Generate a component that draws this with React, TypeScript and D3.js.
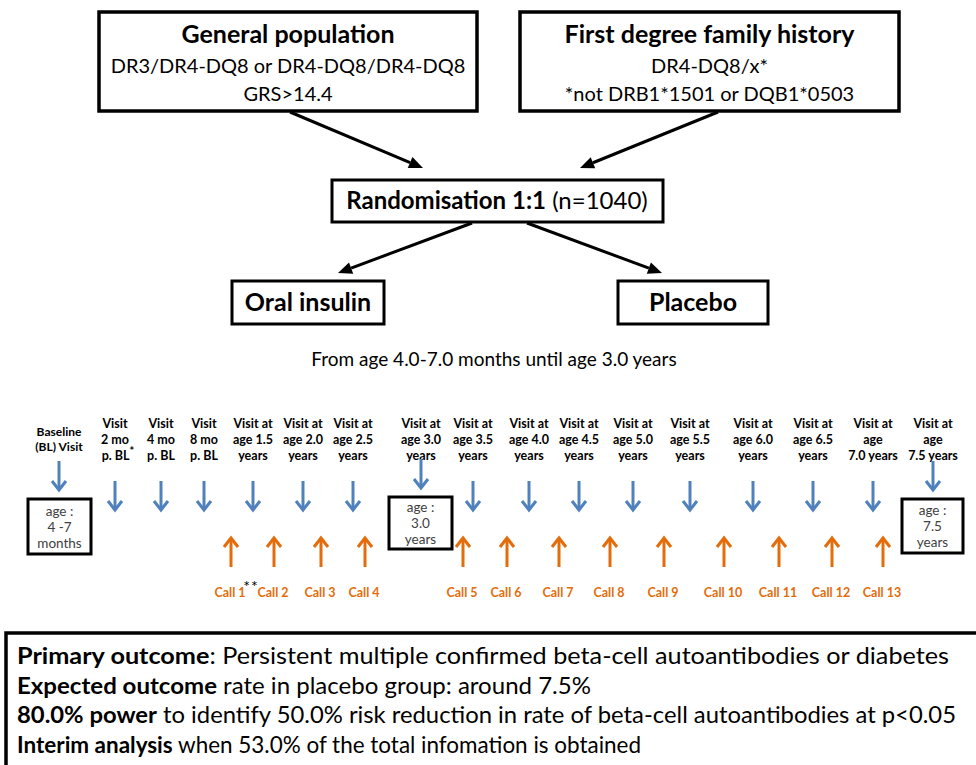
import React from "react";
import * as d3 from "d3";

const FONT = "Lato, 'Open Sans', sans-serif";
const BLUE = "#4F81BD";
const ORANGE = "#E46C0A";

// ---- data ----
const topBoxes = [
  { title: "General population", lines: ["DR3/DR4-DQ8 or DR4-DQ8/DR4-DQ8", "GRS>14.4"] },
  { title: "First degree family history", lines: ["DR4-DQ8/x*", "*not DRB1*1501 or DQB1*0503"] },
];
const randomisationBold = "Randomisation 1:1";
const randomisationNote = " (n=1040)";
const arms = ["Oral insulin", "Placebo"];
const treatmentPeriod = "From age 4.0-7.0 months until age 3.0 years";

const visitLabels: string[][] = [
  ["Baseline", "(BL) Visit"],
  ["Visit", "2 mo", "p. BL*"],
  ["Visit", "4 mo", "p. BL"],
  ["Visit", "8 mo", "p. BL"],
  ["Visit at", "age 1.5", "years"],
  ["Visit at", "age 2.0", "years"],
  ["Visit at", "age 2.5", "years"],
  ["Visit at", "age 3.0", "years"],
  ["Visit at", "age 3.5", "years"],
  ["Visit at", "age 4.0", "years"],
  ["Visit at", "age 4.5", "years"],
  ["Visit at", "age 5.0", "years"],
  ["Visit at", "age 5.5", "years"],
  ["Visit at", "age 6.0", "years"],
  ["Visit at", "age 6.5", "years"],
  ["Visit at", "age", "7.0 years"],
  ["Visit at", "age", "7.5 years"],
];
const ageBoxes = [
  { visit: 0, lines: ["age :", "4 -7", "months"] },
  { visit: 7, lines: ["age :", "3.0", "years"] },
  { visit: 16, lines: ["age :", "7.5", "years"] },
];
const calls = ["Call 1", "Call 2", "Call 3", "Call 4", "Call 5", "Call 6", "Call 7", "Call 8", "Call 9", "Call 10", "Call 11", "Call 12", "Call 13"];
const outcomes = [
  { bold: "Primary outcome", rest: ": Persistent multiple confirmed beta-cell autoantibodies or diabetes" },
  { bold: "Expected outcome", rest: " rate in placebo group: around 7.5%" },
  { bold: "80.0% power", rest: " to identify 50.0% risk reduction in rate of beta-cell autoantibodies at p<0.05" },
  { bold: "Interim analysis", rest: " when 53.0% of the total infomation is obtained" },
];

// ---- layout ----
const visitX = [59, 115, 161, 204, 253, 303, 353, 421, 473, 529, 579, 633, 690, 753, 813, 873, 933];
const callX = [231, 274, 321, 365, 463, 507, 559, 610, 664, 724, 779, 832, 883];
const topBoxRects = [
  { x0: 99, x1: 477 },
  { x0: 520, x1: 899 },
];
const ageBoxRects = [
  { x0: 28, x1: 91, y0: 499, y1: 554 },
  { x0: 389, x1: 452, y0: 497, y1: 549 },
  { x0: 902, x1: 963, y0: 499, y1: 553 },
];
const outcomeLineWidths = [932, 574, 939, 624];

const line = d3.line<[number, number]>();

function Chevron({ x, y0, y1, color }: { x: number; y0: number; y1: number; color: string }) {
  const dir = y1 > y0 ? 1 : -1;
  const shaft = line([[x, y0], [x, y1 - dir * 1]])!;
  const head = line([[x - 7, y1 - dir * 9], [x, y1], [x + 7, y1 - dir * 9]])!;
  return (
    <g fill="none" stroke={color} strokeWidth={3}>
      <path d={shaft} />
      <path d={head} strokeLinejoin="miter" />
    </g>
  );
}

function BlackArrow({ x1, y1, x2, y2 }: { x1: number; y1: number; x2: number; y2: number }) {
  const a = Math.atan2(y2 - y1, x2 - x1);
  const L = 14, W = 6;
  const bx = x2 - L * Math.cos(a), by = y2 - L * Math.sin(a);
  const p1: [number, number] = [bx + W * Math.sin(a), by - W * Math.cos(a)];
  const p2: [number, number] = [bx - W * Math.sin(a), by + W * Math.cos(a)];
  return (
    <g>
      <path d={line([[x1, y1], [bx, by]])!} stroke="#000" strokeWidth={3} fill="none" />
      <path d={line([[x2, y2], p1, p2])! + "Z"} fill="#000" />
    </g>
  );
}

export default function App() {
  const W = 976, H = 765;
  return (
    <svg width={W} height={H} style={{ position: "absolute", left: 0, top: 0, background: "#fff" }} fontFamily={FONT}>
      <rect x={0} y={0} width={W} height={H} fill="#fff" />
      {/* top boxes */}
      {topBoxes.map((b, i) => {
        const r = topBoxRects[i];
        const cx = (r.x0 + r.x1) / 2;
        return (
          <g key={i}>
            <rect x={r.x0} y={12} width={r.x1 - r.x0} height={99} fill="#fff" stroke="#000" strokeWidth={3.5} />
            <text x={cx} y={43} textAnchor="middle" fontSize={25} fontWeight="bold">{b.title}</text>
            {b.lines.map((l, j) => (
              <text key={j} x={cx} y={73 + j * 28} textAnchor="middle" fontSize={20}>{l}</text>
            ))}
          </g>
        );
      })}
      <BlackArrow x1={290} y1={112} x2={423} y2={168} />
      <BlackArrow x1={718} y1={112} x2={580} y2={168} />
      {/* randomisation */}
      <rect x={332} y={180} width={331} height={42} fill="#fff" stroke="#000" strokeWidth={3} />
      <text x={497} y={209} textAnchor="middle" fontSize={24}>
        <tspan fontWeight="bold">{randomisationBold}</tspan>
        <tspan>{randomisationNote}</tspan>
      </text>
      <BlackArrow x1={472} y1={223} x2={338} y2={273} />
      <BlackArrow x1={527} y1={223} x2={662} y2={273} />
      {/* arms */}
      {arms.map((a, i) => {
        const x0 = i === 0 ? 232 : 618;
        const x1 = i === 0 ? 384 : 768;
        return (
          <g key={a}>
            <rect x={x0} y={281} width={x1 - x0} height={43} fill="#fff" stroke="#000" strokeWidth={3} />
            <text x={(x0 + x1) / 2} y={311} textAnchor="middle" fontSize={25} fontWeight="bold">{a}</text>
          </g>
        );
      })}
      <text x={494} y={366} textAnchor="middle" fontSize={19}>{treatmentPeriod}</text>

      {/* visits */}
      {visitLabels.map((lines, i) => {
        const x = visitX[i];
        const isBase = i === 0;
        const y0 = isBase ? 436 : 428;
        const dy = isBase ? 15 : 16;
        return (
          <g key={i}>
            {lines.map((l, j) => {
              if (l.endsWith("*")) {
                return (
                  <text key={j} x={x + 3} y={y0 + j * dy} textAnchor="middle" fontSize={12.5} fontWeight="bold">
                    {l.slice(0, -1)}
                    <tspan dy={-5} fontSize={11}>*</tspan>
                  </text>
                );
              }
              return (
                <text key={j} x={x} y={y0 + j * dy} textAnchor="middle" fontSize={isBase ? 12 : 12.5} fontWeight="bold">{l}</text>
              );
            })}
          </g>
        );
      })}
      {visitLabels.map((_, i) => {
        const box = ageBoxes.find((b) => b.visit === i);
        if (box) {
          const r = ageBoxRects[ageBoxes.indexOf(box)];
          return <Chevron key={i} x={visitX[i]} y0={r.y0 - 38} y1={r.y0 - 9} color={BLUE} />;
        }
        return <Chevron key={i} x={visitX[i]} y0={481} y1={510} color={BLUE} />;
      })}
      {ageBoxes.map((b, i) => {
        const r = ageBoxRects[i];
        const cx = (r.x0 + r.x1) / 2;
        const cy = (r.y0 + r.y1) / 2;
        return (
          <g key={i}>
            <rect x={r.x0} y={r.y0} width={r.x1 - r.x0} height={r.y1 - r.y0} fill="#fff" stroke="#000" strokeWidth={3} />
            {b.lines.map((l, j) => (
              <text key={j} x={cx} y={cy + (j - 1) * 16 + 5} textAnchor="middle" fontSize={13.5} fill="#404040">{l}</text>
            ))}
          </g>
        );
      })}

      {/* calls */}
      {calls.map((c, i) => (
        <g key={c}>
          <Chevron x={callX[i]} y0={567} y1={538} color={ORANGE} />
          <text x={callX[i] - 1} y={597} textAnchor="middle" fontSize={12.5} fontWeight="bold" fill={ORANGE}>{c}</text>
        </g>
      ))}
      <text x={251} y={592} textAnchor="middle" fontSize={16} fill="#000" letterSpacing={1}>**</text>

      {/* outcomes */}
      <rect x={6} y={633} width={1000} height={200} fill="#fff" stroke="#000" strokeWidth={3.5} />
      {outcomes.map((o, i) => (
        <text key={i} x={17} y={664 + i * 29.5} fontSize={23.5} textLength={outcomeLineWidths[i]} lengthAdjust="spacingAndGlyphs">
          <tspan fontWeight="bold">{o.bold}</tspan>
          <tspan>{o.rest}</tspan>
        </text>
      ))}
    </svg>
  );
}
